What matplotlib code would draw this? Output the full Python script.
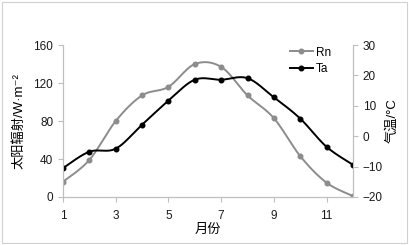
import numpy as np
import matplotlib.pyplot as plt
from matplotlib.patches import Rectangle
from matplotlib.lines import Line2D

plt.rcParams['font.family'] = ['Liberation Sans', 'Noto Sans CJK SC', 'DejaVu Sans']

months = [1, 2, 3, 4, 5, 6, 7, 8, 9, 10, 11, 12]
rn = [16, 39, 80, 107, 116, 140, 137, 107, 83, 43, 15, 1]
ta = [-10.5, -5.1, -4.1, 3.8, 11.7, 18.6, 18.6, 19.1, 12.8, 5.8, -3.5, -9.4]
xticks = [1, 3, 5, 7, 9, 11]


def smooth(x, y, n=20):
    # Excel-style smoothed line: cubic Bezier through points (Catmull-Rom, 1/6 tension)
    x = np.asarray(x, float)
    y = np.asarray(y, float)
    p = np.column_stack([x, y])
    pts = []
    for i in range(len(p) - 1):
        p0 = p[i - 1] if i > 0 else p[i]
        p3 = p[i + 2] if i + 2 < len(p) else p[i + 1]
        c1 = p[i] + (p[i + 1] - p0) / 6
        c2 = p[i + 1] - (p3 - p[i]) / 6
        t = np.linspace(0, 1, n, endpoint=False)[:, None]
        b = ((1 - t) ** 3) * p[i] + 3 * ((1 - t) ** 2) * t * c1 + 3 * (1 - t) * t ** 2 * c2 + t ** 3 * p[i + 1]
        pts.append(b)
    pts.append(p[-1:])
    pts = np.vstack(pts)
    return pts[:, 0], pts[:, 1]


fig = plt.figure(figsize=(4.09, 2.45), dpi=100)
fig.patches.append(Rectangle((0.005, 0.008), 0.99, 0.984, transform=fig.transFigure,
                             fill=False, ec="#d0d0d0", lw=0.8))
ax = fig.add_axes([0.154, 0.196, 0.709, 0.62])
ax2 = ax.twinx()

gray = "#8c8c8c"
sx, sy = smooth(months, rn)
ax.plot(sx, sy, color=gray, lw=1.4)
ax.plot(months, rn, "o", color=gray, ms=3.3)
tx, ty = smooth(months, ta)
ax2.plot(tx, ty, color="black", lw=1.4)
ax2.plot(months, ta, "o", color="black", ms=3.3)

ax.set_xlim(1, 12)
ax.set_ylim(0, 160)
ax2.set_ylim(-20, 30)
ax.set_xticks(xticks)
ax.set_yticks([0, 40, 80, 120, 160])
ax2.set_yticks([-20, -10, 0, 10, 20, 30])

for a in (ax, ax2):
    for s in a.spines.values():
        s.set_color("#bfbfbf")
        s.set_linewidth(0.8)
    a.spines["top"].set_visible(False)
    a.tick_params(labelsize=8.5, colors="#bfbfbf", labelcolor="#1a1a1a", length=3.5, width=0.8)
ax.tick_params(axis="x", pad=6)

ax.set_ylabel("太阳辐射/W·m⁻²", fontsize=9.5, labelpad=6)
ax2.set_ylabel("气温/°C", fontsize=9.5, rotation=90, labelpad=2)
ax.set_xlabel("月份", fontsize=9.5, labelpad=1)

handles = [Line2D([], [], color=gray, lw=1.4, marker="o", ms=3.3),
           Line2D([], [], color="black", lw=1.4, marker="o", ms=3.3)]
ax2.legend(handles, ["Rn", "Ta"], loc="upper right", bbox_to_anchor=(0.96, 1.06), frameon=False,
           fontsize=8.5, handlelength=2, handletextpad=0.2, labelspacing=0.4)

fig.savefig("out.png", dpi=100)
